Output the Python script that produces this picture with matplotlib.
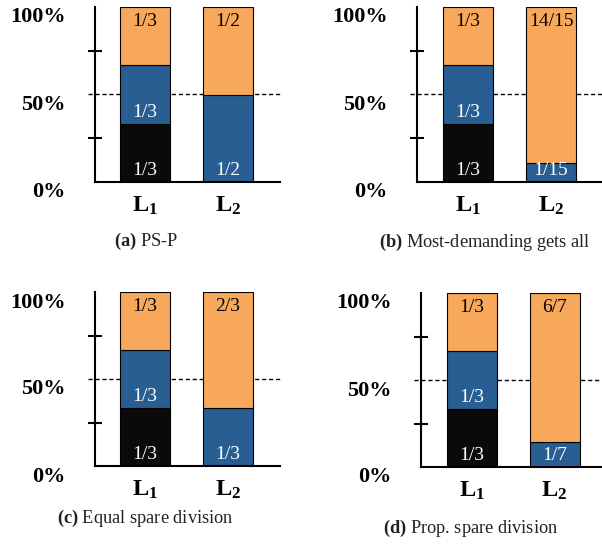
import matplotlib.pyplot as plt
from matplotlib.transforms import ScaledTranslation

plt.rcParams['font.family'] = 'Liberation Serif'
plt.rcParams['mathtext.fontset'] = 'custom'
plt.rcParams['mathtext.rm'] = 'Liberation Serif'
plt.rcParams['mathtext.bf'] = 'Liberation Serif:bold'
plt.rcParams['mathtext.it'] = 'Liberation Serif:italic'

# data
letters = ['a', 'b', 'c', 'd']
titles = ['PS-P', 'Most-demanding gets all', 'Equal spare division', 'Prop. spare division']
bar_labels = [r'$\mathbf{L}_{\mathbf{1}}$', r'$\mathbf{L}_{\mathbf{2}}$']

# drawn heights in percent (L1, L2) per panel
black_pct = [[33.3, 0], [33.3, 0], [33.3, 0], [33.3, 0]]
blue_pct = [[33.3, 50], [33.3, 11], [33.3, 33.3], [33.3, 14.3]]
orange_pct = [[33.4, 50], [33.4, 89], [33.4, 66.7], [33.4, 85.7]]

# text written inside the segments
black_text = [['1/3', ''], ['1/3', ''], ['1/3', ''], ['1/3', '']]
blue_text = [['1/3', '1/2'], ['1/3', '1/15'], ['1/3', '1/3'], ['1/3', '1/7']]
orange_text = [['1/3', '1/2'], ['1/3', '14/15'], ['1/3', '2/3'], ['1/3', '6/7']]

BLACK = '#0a0a0a'
BLUE = '#285e92'
ORANGE = '#f8a85a'

W, H = 602, 546
# panel boxes in pixels: left, right, top, bottom, centre of first bar
boxes = [(95, 280, 7, 182, 145), (417, 602, 7, 182, 468),
         (95, 280, 292, 466, 145), (421, 602, 293, 467, 471.5)]
caption_pos = [(146, 241), (485, 242), (145, 518), (471, 528)]
SPACING = 83.0
BAR_W = 50 / SPACING

fig = plt.figure(figsize=(W / 100, H / 100), dpi=100)

for i in range(4):
    left, right, top, bottom, c1 = boxes[i]
    ax = fig.add_axes([left / W, 1 - bottom / H, (right - left) / W, (bottom - top) / H])
    x0 = (left - c1) / SPACING
    x1 = (right - c1) / SPACING
    ax.set_xlim(x0, x1)
    ax.set_ylim(0, 100)

    xs = [0, 1]
    blk = black_pct[i]
    blu = blue_pct[i]
    org = orange_pct[i]

    ax.plot([x0 - 7 / SPACING, x1], [50, 50], color='black', lw=1,
            dashes=(3, 2), clip_on=False, zorder=1)

    for j, x in enumerate(xs):
        if blk[j] > 0:
            ax.bar(x, blk[j], width=BAR_W, color=BLACK, edgecolor='black', lw=0.8, zorder=2)
            ax.annotate(black_text[i][j], (x, 0), xytext=(0, 8.2), textcoords='offset points',
                        ha='center', va='center', color='white', fontsize=14, zorder=5)
        ax.bar(x, blu[j], bottom=blk[j], width=BAR_W, color=BLUE, edgecolor='black', lw=0.8, zorder=2)
        ax.annotate(blue_text[i][j], (x, blk[j]), xytext=(0, 8.2), textcoords='offset points',
                    ha='center', va='center', color='white', fontsize=14, zorder=5)
        ax.bar(x, org[j], bottom=blk[j] + blu[j], width=BAR_W, color=ORANGE, edgecolor='black',
               lw=0.8, zorder=2)
        ax.annotate(orange_text[i][j], (x, 100), xytext=(0, -10.5), textcoords='offset points',
                    ha='center', va='center', color='black', fontsize=14, zorder=5)

    for side in ['top', 'right']:
        ax.spines[side].set_visible(False)
    for side in ['left', 'bottom']:
        ax.spines[side].set_linewidth(1.5)
        ax.spines[side].set_zorder(4)

    ax.set_yticks([0, 50, 100])
    ax.set_yticklabels(['0%', '50%', '100%'], fontsize=16, fontweight='bold')
    ax.set_yticks([0, 25, 75, 100], minor=True)
    ax.tick_params(axis='y', which='major', length=0, pad=21)
    ax.tick_params(axis='y', which='minor', direction='inout', length=10, width=1.5)
    shift = ScaledTranslation(0, -0.08, fig.dpi_scale_trans)
    for lab in ax.get_yticklabels():
        lab.set_transform(lab.get_transform() + shift)

    ax.set_xticks(xs)
    ax.set_xticklabels(bar_labels, fontsize=17.5)
    ax.tick_params(axis='x', length=0, pad=9)

    cx, cy = caption_pos[i]
    fig.text(cx / W, 1 - cy / H, r'$\mathbf{(' + letters[i] + ')}$ ' + titles[i],
             ha='center', va='center', fontsize=13.2, color='#222222')

fig.savefig('out.png', dpi=100)
